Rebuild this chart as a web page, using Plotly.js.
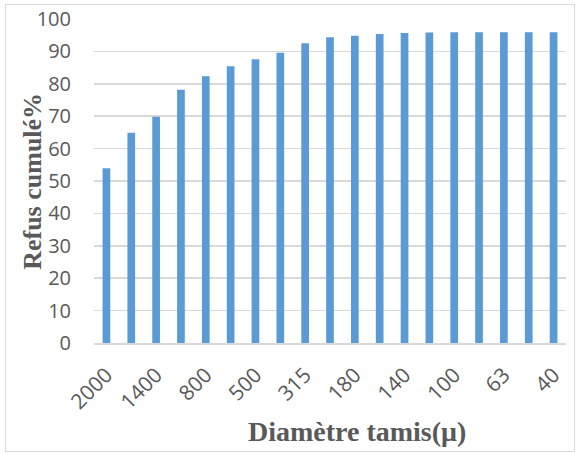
<!DOCTYPE html>
<html>
<head>
<meta charset="utf-8">
<script src="https://cdn.plot.ly/plotly-3.0.1.min.js"></script>
<style>
html,body{margin:0;padding:0;background:#fff;}
#wrap{position:absolute;left:0;top:0;width:580px;height:453px;}
#frame{position:absolute;left:5px;top:4px;width:568px;height:446px;border:1.5px solid #d9d9d9;pointer-events:none;}
#chart{position:absolute;left:0;top:0;width:580px;height:453px;}
</style>
</head>
<body>
<div id="wrap"><div id="chart"></div><div id="frame"></div></div>
<script>
const categories = ["2000","1600","1400","1000","800","630","500","400","315","250","180","160","140","125","100","80","63","50","40"];
const refus = [53.9, 64.9, 69.8, 78.2, 82.3, 85.4, 87.6, 89.6, 92.5, 94.4, 94.8, 95.4, 95.7, 95.8, 95.9, 95.9, 95.9, 95.9, 95.9];
const shownTicks = ["2000","1400","800","500","315","180","140","100","63","40"];
const xTitle = "Diamètre tamis(μ)";
const yTitle = "Refus cumulé%";

const yTickFont = {family: "Open Sans, Liberation Sans, sans-serif", size: 20, color: "#595959"};
const xTickFont = {family: "Open Sans, Liberation Sans, sans-serif", size: 21, color: "#595959"};
const xTitleFont = {family: "Liberation Serif, Times New Roman, serif", size: 28, color: "#595959", weight: "bold"};
const yTitleFont = {family: "Liberation Serif, Times New Roman, serif", size: 26, color: "#595959", weight: "bold"};

Plotly.newPlot("chart", [{
  type: "bar",
  x: categories,
  y: refus,
  marker: {color: "#5B9BD5"},
  hoverinfo: "x+y"
}], {
  width: 580, height: 453,
  margin: {l: 94, r: 14, t: 18.5, b: 109.5},
  paper_bgcolor: "#ffffff",
  plot_bgcolor: "#ffffff",
  bargap: 0.69,
  showlegend: false,
  xaxis: {
    type: "category",
    tickmode: "array",
    tickvals: shownTicks,
    ticktext: shownTicks,
    tickangle: -45,
    tickfont: xTickFont,
    showgrid: false,
    showline: true,
    linecolor: "#d9d9d9",
    linewidth: 1.5,
    ticks: "",
    ticklen: 0,
    ticklabelstandoff: 10
  },
  yaxis: {
    range: [0, 100],
    dtick: 10,
    tickfont: yTickFont,
    showgrid: true,
    gridcolor: "#d9d9d9",
    gridwidth: 1.5,
    zeroline: false,
    showline: false,
    ticks: "",
    ticklabelstandoff: 22
  },
  annotations: [
    {text: xTitle, xref: "paper", yref: "paper", x: 0.558, y: -0.272, xanchor: "center", yanchor: "middle", showarrow: false, font: xTitleFont},
    {text: yTitle, xref: "paper", yref: "paper", x: -0.131, y: 0.498, xanchor: "center", yanchor: "middle", textangle: -90, showarrow: false, font: yTitleFont}
  ]
}, {displayModeBar: false, staticPlot: true});
</script>
</body>
</html>
